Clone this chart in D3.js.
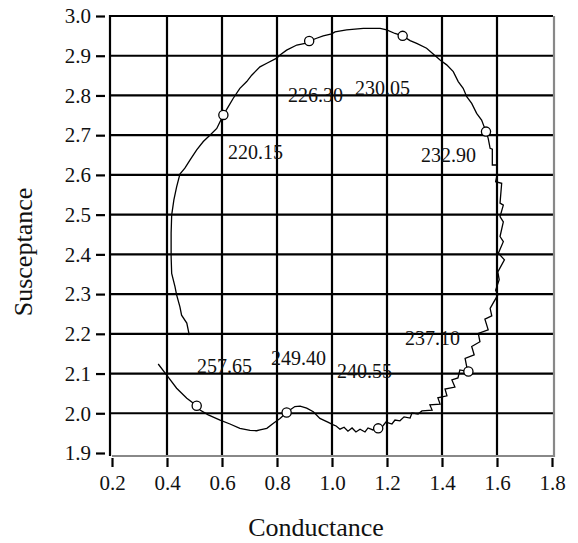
<!DOCTYPE html>
<html>
<head>
<meta charset="utf-8">
<script src="https://cdn.jsdelivr.net/npm/d3@7/dist/d3.min.js"></script>
<style>
  html, body { margin: 0; padding: 0; background: #fff; }
  svg { display: block; }
  svg text { font-family: "Liberation Serif", "Times New Roman", Times, serif !important; fill: #111; }
</style>
</head>
<body>
<svg id="chart" width="578" height="543"></svg>
<script>
// ---- data ----
const xTicks = [0.2, 0.4, 0.6, 0.8, 1.0, 1.2, 1.4, 1.6, 1.8];
const yTicks = [1.9, 2.0, 2.1, 2.2, 2.3, 2.4, 2.5, 2.6, 2.7, 2.8, 2.9, 3.0];

const conductance = [
  0.481, 0.472, 0.453, 0.447, 0.435, 0.429, 0.417, 0.415, 0.415, 0.417, 0.425, 0.435,
  0.447, 0.465, 0.484, 0.508, 0.532, 0.556, 0.581, 0.605, 0.623, 0.641, 0.665, 0.690,
  0.708, 0.738, 0.763, 0.799, 0.811, 0.835, 0.872, 0.902, 0.917, 0.944, 0.968, 0.999,
  1.011, 1.053, 1.114, 1.175, 1.199, 1.229, 1.257, 1.284, 1.308, 1.344, 1.393, 1.417,
  1.441, 1.459, 1.477, 1.490, 1.508, 1.526, 1.544, 1.560,
  1.568, 1.575, 1.583, 1.583, 1.599, 1.599, 1.595, 1.617, 1.611, 1.623, 1.611, 1.623,
  1.611, 1.623, 1.605, 1.627, 1.603, 1.608, 1.595, 1.603, 1.575, 1.581, 1.556, 1.568,
  1.532, 1.538, 1.508, 1.517, 1.484, 1.490, 1.496,
  1.465, 1.458, 1.436, 1.447, 1.411, 1.418, 1.385, 1.393, 1.356, 1.364, 1.327, 1.313,
  1.291, 1.284, 1.262, 1.247, 1.229, 1.218, 1.196, 1.185, 1.168, 1.149, 1.131, 1.120,
  1.102, 1.087, 1.073, 1.058, 1.044, 1.029, 1.015, 1.005, 0.981, 0.956, 0.932, 0.908,
  0.884, 0.865, 0.847, 0.835, 0.811, 0.787, 0.763, 0.738, 0.726, 0.702, 0.665, 0.629,
  0.593, 0.550, 0.520, 0.508, 0.472, 0.435, 0.399, 0.368
];
const susceptance = [
  2.197, 2.227, 2.247, 2.268, 2.298, 2.319, 2.352, 2.394, 2.453, 2.499, 2.537, 2.570,
  2.602, 2.617, 2.638, 2.663, 2.684, 2.700, 2.717, 2.751, 2.772, 2.793, 2.818, 2.835,
  2.851, 2.872, 2.881, 2.894, 2.902, 2.914, 2.927, 2.931, 2.937, 2.944, 2.950, 2.955,
  2.960, 2.965, 2.969, 2.969, 2.965, 2.956, 2.950, 2.938, 2.931, 2.919, 2.889, 2.877,
  2.860, 2.835, 2.818, 2.797, 2.780, 2.755, 2.738, 2.709,
  2.692, 2.667, 2.665, 2.625, 2.625, 2.596, 2.583, 2.579, 2.529, 2.524, 2.495, 2.482,
  2.445, 2.432, 2.403, 2.386, 2.356, 2.336, 2.310, 2.298, 2.264, 2.245, 2.237, 2.210,
  2.201, 2.180, 2.168, 2.147, 2.138, 2.117, 2.105,
  2.109, 2.089, 2.084, 2.066, 2.061, 2.044, 2.039, 2.023, 2.021, 2.008, 2.006, 1.998,
  2.001, 1.988, 1.991, 1.981, 1.983, 1.973, 1.978, 1.968, 1.962, 1.958, 1.963, 1.953,
  1.960, 1.953, 1.963, 1.955, 1.965, 1.960, 1.968, 1.971, 1.979, 1.987, 2.004, 2.013,
  2.018, 2.017, 2.008, 2.002, 1.987, 1.975, 1.962, 1.958, 1.956, 1.957, 1.962, 1.973,
  1.983, 1.996, 2.008, 2.019, 2.038, 2.063, 2.096, 2.124
];

const freqLabels = ["220.15", "226.30", "230.05", "232.90", "237.10", "240.55", "249.40", "257.65"];
const markerG = [0.605, 0.917, 1.257, 1.560, 1.496, 1.168, 0.835, 0.508];
const markerB = [2.751, 2.937, 2.950, 2.709, 2.105, 1.962, 2.002, 2.019];
const labelG  = [0.622, 0.840, 1.084, 1.324, 1.265, 1.018, 0.778, 0.509];
const labelB  = [2.640, 2.784, 2.801, 2.633, 2.172, 2.089, 2.122, 2.101];

// ---- layout ----
const SERIF = "'Liberation Serif', 'Times New Roman', Times, serif";
const svg = d3.select("#chart");
const x = d3.scaleLinear().domain([0.2, 1.8]).range([112, 552]);
const y = d3.scaleLinear().domain([1.9, 3.0]).range([453, 16]);
const frame = { left: 110, right: 554, top: 16, bottom: 456 };

// grid lines
const gGrid = svg.append("g");
gGrid.selectAll("line.v").data(xTicks.filter(t => t > 0.25 && t < 1.75)).join("line")
  .attr("x1", d => x(d)).attr("x2", d => x(d))
  .attr("y1", frame.top).attr("y2", frame.bottom)
  .attr("stroke", "#000").attr("stroke-width", 2.2);
gGrid.selectAll("line.h").data(yTicks.filter(t => t > 1.95 && t < 2.95)).join("line")
  .attr("x1", frame.left).attr("x2", frame.right)
  .attr("y1", d => y(d)).attr("y2", d => y(d))
  .attr("stroke", "#000").attr("stroke-width", 2.2);

// frame: left/top black, right/bottom gray
svg.append("line").attr("x1", frame.left).attr("x2", frame.left)
  .attr("y1", frame.top - 1).attr("y2", frame.bottom).attr("stroke", "#000").attr("stroke-width", 2.2);
svg.append("line").attr("x1", frame.left).attr("x2", frame.right - 1)
  .attr("y1", frame.top).attr("y2", frame.top).attr("stroke", "#000").attr("stroke-width", 2.2);
svg.append("line").attr("x1", frame.right).attr("x2", frame.right)
  .attr("y1", frame.top).attr("y2", frame.bottom + 1).attr("stroke", "#888").attr("stroke-width", 2.2);
svg.append("line").attr("x1", frame.left + 2).attr("x2", frame.right)
  .attr("y1", frame.bottom).attr("y2", frame.bottom).attr("stroke", "#888").attr("stroke-width", 2.2);

// axes
const yAxis = d3.axisLeft(y).tickValues(yTicks).tickFormat(d3.format(".1f"))
  .tickSizeInner(9).tickSizeOuter(0).tickPadding(5);
const gy = svg.append("g").attr("transform", "translate(105,0)").call(yAxis)
  .attr("font-family", SERIF).attr("font-size", 21);
gy.select(".domain").remove();
gy.selectAll(".tick line").attr("stroke", "#000").attr("stroke-width", 2.2);
gy.selectAll(".tick text").attr("font-family", SERIF).attr("font-size", 21).attr("fill", "#111");

const xAxis = d3.axisBottom(x).tickValues(xTicks).tickFormat(d3.format(".1f"))
  .tickSizeInner(9).tickSizeOuter(0).tickPadding(8);
const gx = svg.append("g").attr("transform", "translate(0,458)").call(xAxis)
  .attr("font-family", SERIF).attr("font-size", 21);
gx.select(".domain").remove();
gx.selectAll(".tick line").attr("stroke", "#000").attr("stroke-width", 2.2);
gx.selectAll(".tick text").attr("font-family", SERIF).attr("font-size", 21).attr("fill", "#111");

// curve
const pts = conductance.map((g, i) => [g, susceptance[i]]);
svg.append("path")
  .attr("d", d3.line().x(d => x(d[0])).y(d => y(d[1]))(pts))
  .attr("fill", "none").attr("stroke", "#000").attr("stroke-width", 1.3)
  .attr("stroke-linejoin", "miter");

// labels
svg.selectAll("text.lab").data(freqLabels).join("text")
  .attr("class", "lab")
  .attr("x", (d, i) => x(labelG[i])).attr("y", (d, i) => y(labelB[i]))
  .attr("font-family", SERIF).attr("font-size", 20).text(d => d);

// markers
svg.selectAll("circle.m").data(freqLabels).join("circle")
  .attr("class", "m")
  .attr("cx", (d, i) => x(markerG[i])).attr("cy", (d, i) => y(markerB[i]))
  .attr("r", 4.6).attr("fill", "#fff").attr("stroke", "#000").attr("stroke-width", 1.3);

// axis titles
svg.append("text").attr("x", 316).attr("y", 536).attr("text-anchor", "middle")
  .attr("font-family", SERIF).attr("font-size", 26).text("Conductance");
svg.append("text").attr("transform", "translate(32,252) rotate(-90)").attr("text-anchor", "middle")
  .attr("font-family", SERIF).attr("font-size", 26).text("Susceptance");
</script>
</body>
</html>
